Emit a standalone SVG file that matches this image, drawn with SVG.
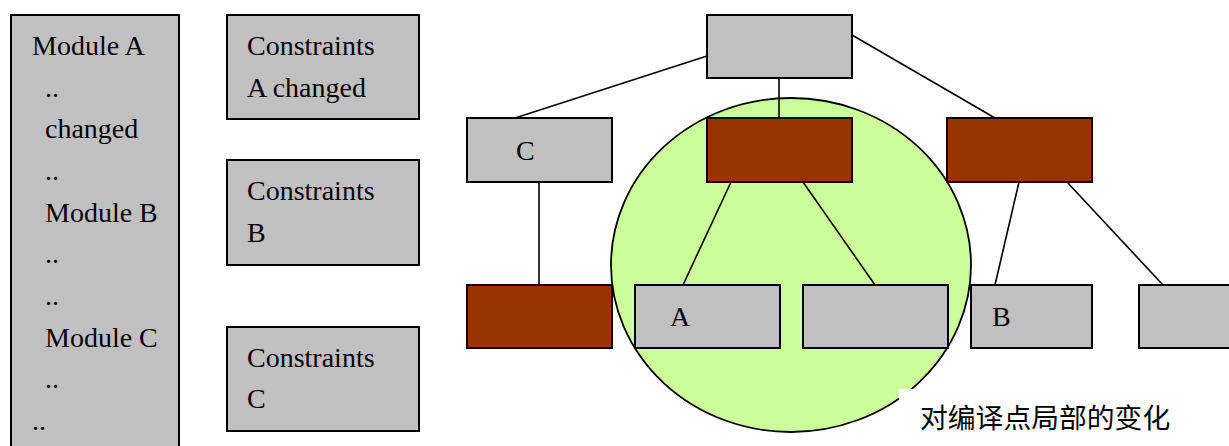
<svg xmlns="http://www.w3.org/2000/svg" width="1229" height="446" viewBox="0 0 1229 446">
<style>
.box{fill:#C0C0C0;stroke:#000;stroke-width:2}
.red{fill:#993300;stroke:#000;stroke-width:2}
.t{font-family:"Liberation Serif","Times New Roman",serif;font-size:28px;fill:#000}
.cjk{font-family:"Noto Sans CJK SC","Noto Sans",sans-serif;font-size:27.8px;fill:#000}
#connectors line{stroke:#000;stroke-width:1.6}
</style>
<rect width="1229" height="446" fill="#fff"/>
<g id="modules">
<rect class="box" x="11" y="15" width="168" height="450"/>
<text class="t" x="32" y="55">Module A</text>
<text class="t" x="45" y="97">..</text>
<text class="t" x="45" y="138">changed</text>
<text class="t" x="45" y="180">..</text>
<text class="t" x="45" y="222">Module B</text>
<text class="t" x="45" y="263">..</text>
<text class="t" x="45" y="305">..</text>
<text class="t" x="45" y="347">Module C</text>
<text class="t" x="45" y="388">..</text>
<text class="t" x="32" y="430">..</text>
</g>
<g id="constraintsA">
<rect class="box" x="227" y="15" width="192" height="104"/>
<text class="t" x="247" y="55">Constraints</text>
<text class="t" x="247" y="97">A changed</text>
</g>
<g id="constraintsB">
<rect class="box" x="227" y="160" width="192" height="105"/>
<text class="t" x="247" y="200">Constraints</text>
<text class="t" x="247" y="242">B</text>
</g>
<g id="constraintsC">
<rect class="box" x="227" y="327" width="192" height="104"/>
<text class="t" x="247" y="367">Constraints</text>
<text class="t" x="247" y="408">C</text>
</g>
<g id="region">
<ellipse cx="791" cy="265" rx="180" ry="167" fill="#CCFF99" stroke="#000" stroke-width="1.8"/>
</g>
<g id="connectors">
<line x1="707" y1="56" x2="515" y2="118"/>
<line x1="779" y1="78" x2="779" y2="118"/>
<line x1="852" y1="35" x2="995" y2="118"/>
<line x1="539" y1="182" x2="539" y2="285"/>
<line x1="731" y1="182" x2="683" y2="285"/>
<line x1="803" y1="182" x2="875" y2="285"/>
<line x1="1019" y1="182" x2="995" y2="285"/>
<line x1="1067" y1="182" x2="1163" y2="285"/>
</g>
<g id="root"><rect class="box" x="707" y="15" width="145" height="63"/></g>
<g id="nodeC"><rect class="box" x="467" y="118" width="145" height="64"/><text class="t" x="516" y="160">C</text></g>
<g id="midRed"><rect class="red" x="707" y="118" width="145" height="64"/></g>
<g id="rightRed"><rect class="red" x="947" y="118" width="145" height="64"/></g>
<g id="leafRed"><rect class="red" x="467" y="285" width="145" height="63"/></g>
<g id="nodeA"><rect class="box" x="635" y="285" width="145" height="63"/><text class="t" x="670" y="326">A</text></g>
<g id="leaf2"><rect class="box" x="803" y="285" width="145" height="63"/></g>
<g id="nodeB"><rect class="box" x="971" y="285" width="121" height="63"/><text class="t" x="992" y="326">B</text></g>
<g id="leaf4"><rect class="box" x="1139" y="285" width="145" height="63"/></g>
<g id="label">
<rect x="899" y="389" width="330" height="57" fill="#fff"/>
<text class="cjk" x="920" y="428">对编译点局部的变化</text>
</g>
</svg>
